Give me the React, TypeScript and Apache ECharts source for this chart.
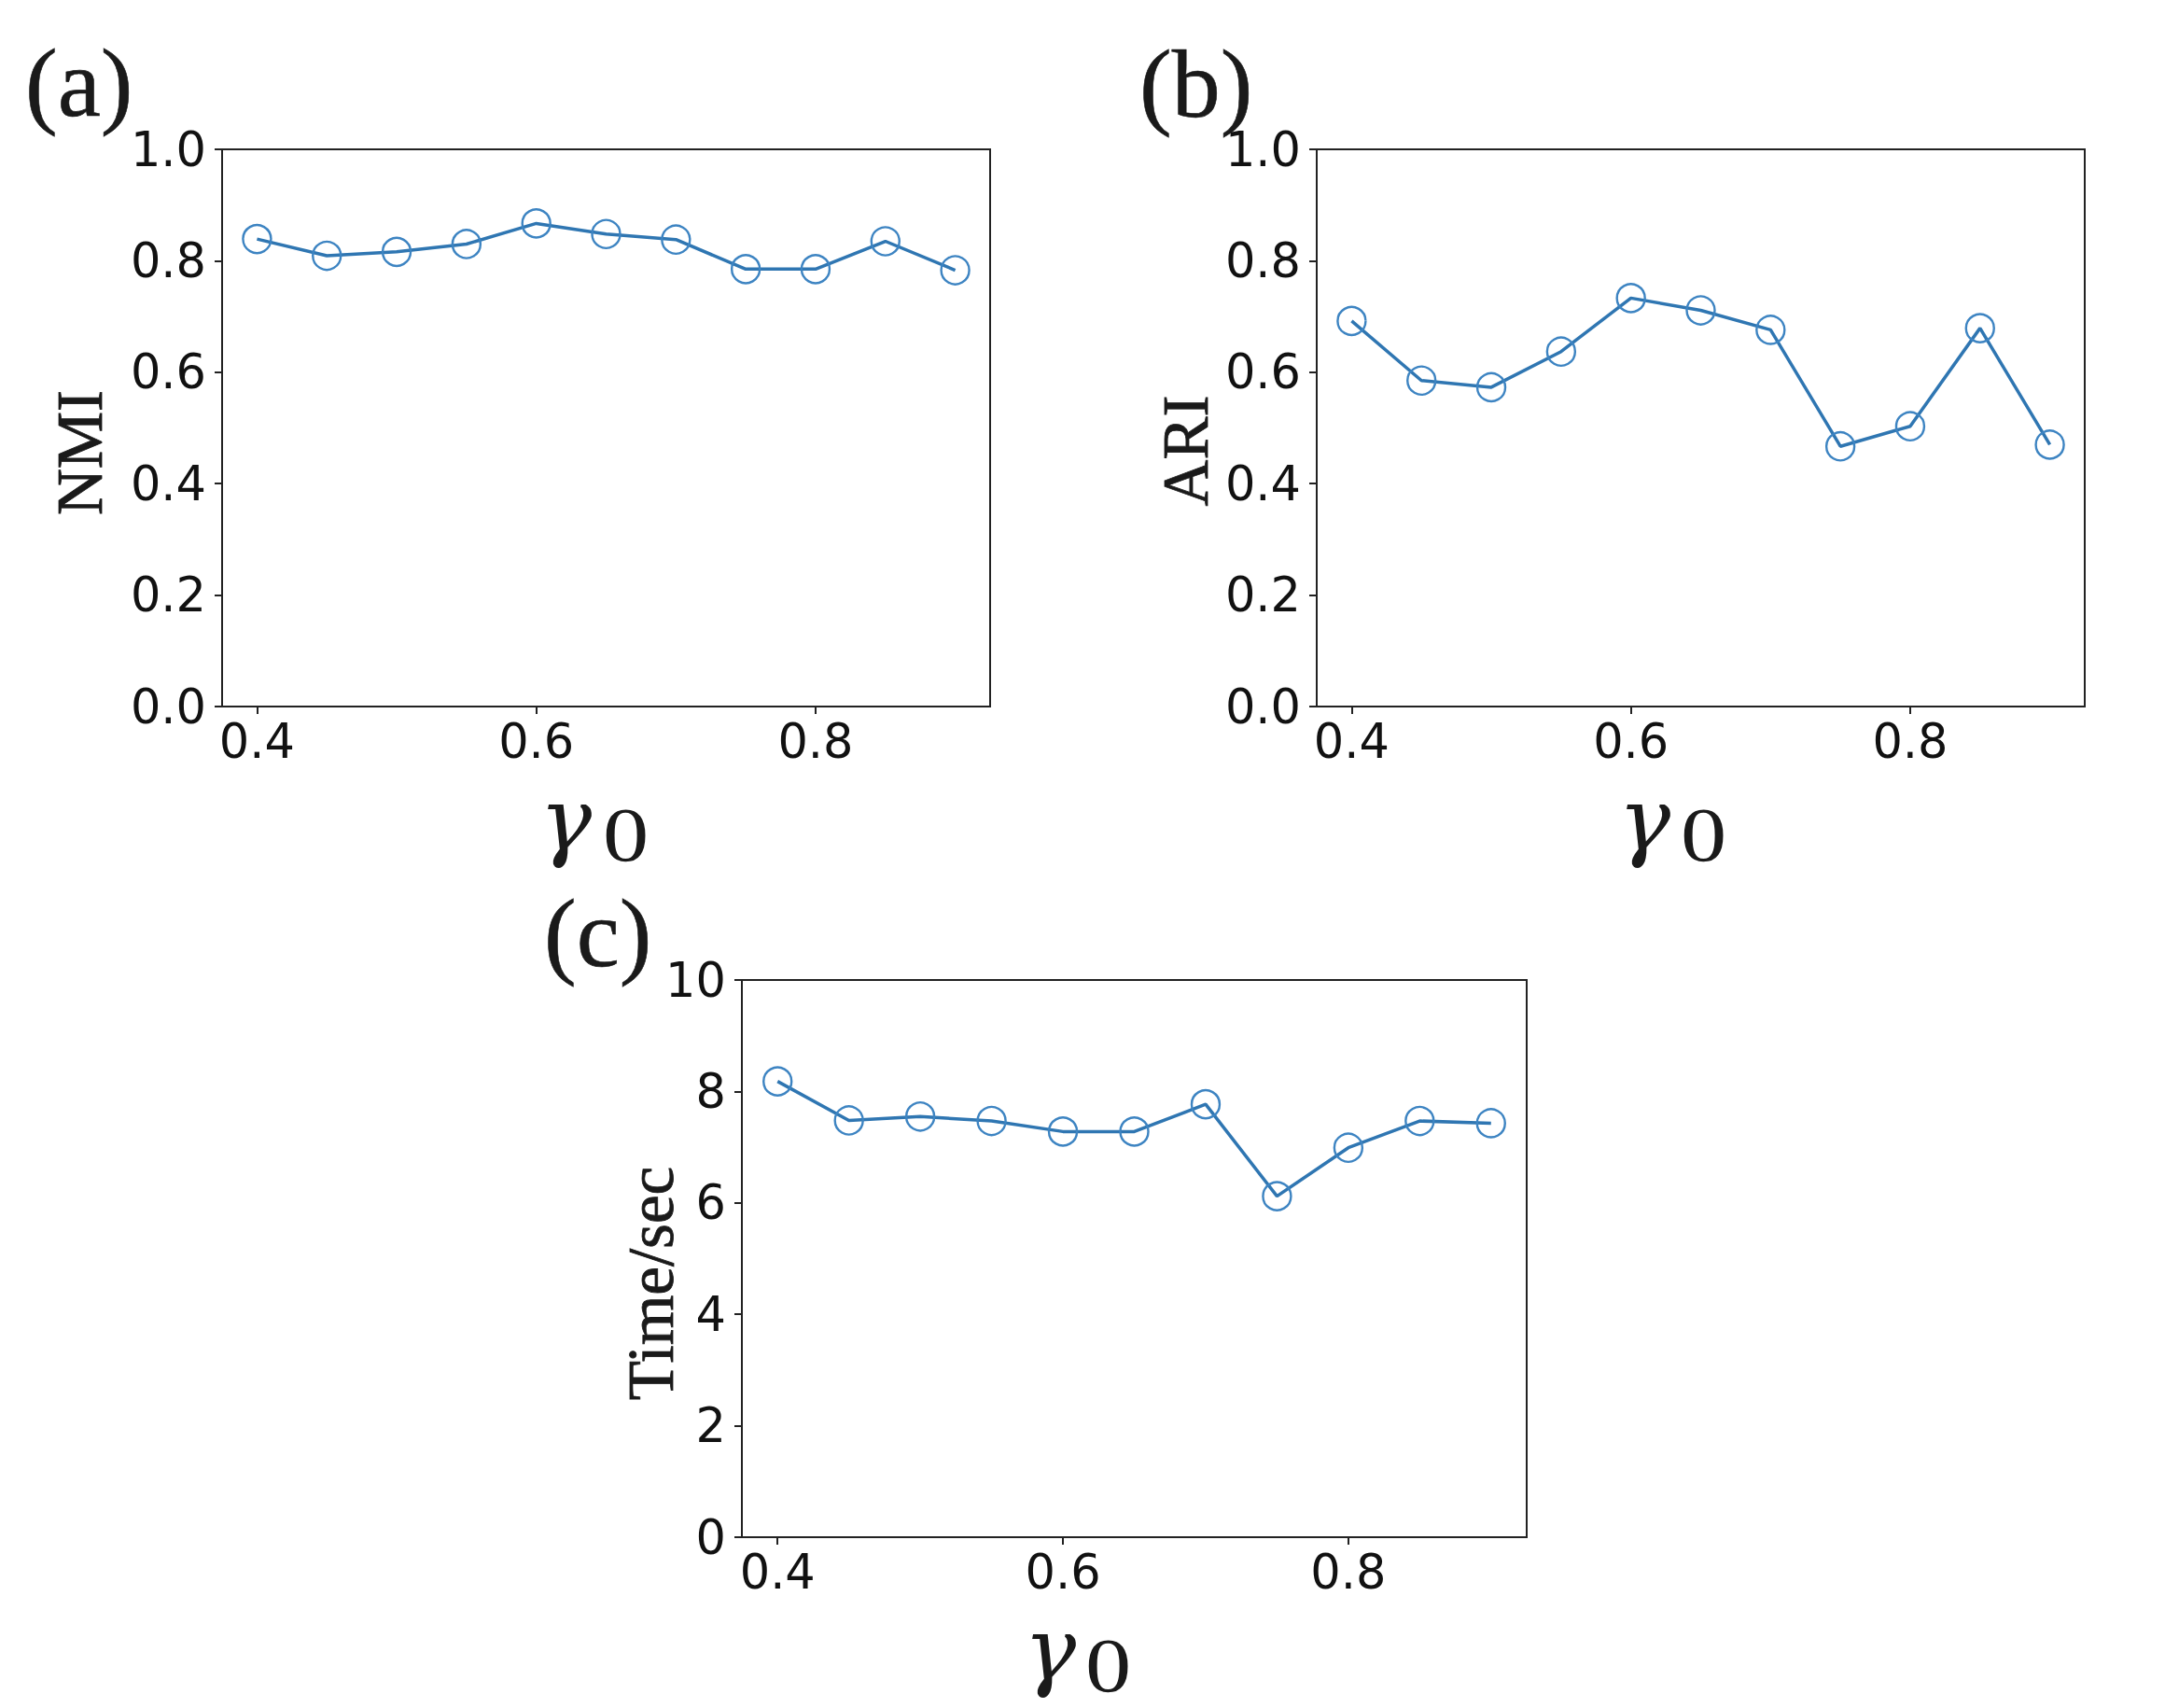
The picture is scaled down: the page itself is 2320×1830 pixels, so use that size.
import React, { useEffect, useRef } from "react";
import * as echarts from "echarts";

const gammaValues = [0.4, 0.45, 0.5, 0.55, 0.6, 0.65, 0.7, 0.75, 0.8, 0.85, 0.9];
const nmiValues = [0.839, 0.809, 0.816, 0.830, 0.867, 0.848, 0.838, 0.785, 0.785, 0.835, 0.783];
const ariValues = [0.692, 0.585, 0.573, 0.637, 0.733, 0.711, 0.676, 0.467, 0.503, 0.679, 0.470];
const timeValues = [8.18, 7.48, 7.55, 7.47, 7.28, 7.28, 7.77, 6.12, 6.99, 7.47, 7.43];
const xTickValues = [0.4, 0.6, 0.8];
const panelLabels = ["(a)", "(b)", "(c)"];
const yAxisNames = ["NMI", "ARI", "Time/sec"];

const LINE = "#2f76b2";
const MARK = "#3d84c2";
const AXIS = "#222222";
const TICK_FONT = "DejaVu Sans";
const SERIF = "Liberation Serif";
const INK = "#1a1a1a";

const grids = [
  { left: 238, top: 160, width: 823, height: 597 },
  { left: 1411, top: 160, width: 823, height: 597 },
  { left: 795, top: 1050, width: 841, height: 597 },
];

export default function App() {
  const ref = useRef<HTMLDivElement>(null);
  useEffect(() => {
    if (!ref.current) return;
    const chart = echarts.init(ref.current, null, { renderer: "svg" });
    const yCfg = [
      { max: 1, interval: 0.2, fmt: (v: number) => v.toFixed(1) },
      { max: 1, interval: 0.2, fmt: (v: number) => v.toFixed(1) },
      { max: 10, interval: 2, fmt: (v: number) => String(Math.round(v)) },
    ];
    const series = [nmiValues, ariValues, timeValues].map((vals, i) => ({
      type: "line",
      xAxisIndex: i,
      yAxisIndex: i,
      data: gammaValues.map((g, k) => [g, vals[k]]),
      symbol: "circle",
      symbolSize: 30,
      lineStyle: { color: LINE, width: 3.5 },
      itemStyle: { color: "rgba(0,0,0,0)", borderColor: MARK, borderWidth: 2.4 },
      z: 3,
    }));
    const labelPos = [
      { px: 27, py: 88, nx: 86, ny: 485, gx: 578, g0x: 646, gy: 922, gb: 931 },
      { px: 1221, py: 89, nx: 1271, ny: 483, gx: 1734, g0x: 1801, gy: 922, gb: 931 },
      { px: 583, py: 999, nx: 698, ny: 1375, gx: 1097, g0x: 1163, gy: 1812, gb: 1820 },
    ];
    const GF = 94;
    const graphic: any[] = [];
    labelPos.forEach((p, i) => {
      graphic.push({
        type: "text",
        x: p.px,
        y: p.py,
        style: {
          text: panelLabels[i], font: `104px "${SERIF}"`, fill: INK, stroke: INK, lineWidth: 0.6,
          align: "left", verticalAlign: "middle", lineHeight: 90,
        },
      });
      graphic.push({
        type: "text",
        x: p.nx,
        y: p.ny,
        rotation: Math.PI / 2,
        style: {
          text: yAxisNames[i], font: `69px "${SERIF}"`, fill: INK, stroke: INK, lineWidth: 0.8,
          align: "center", verticalAlign: "middle", lineHeight: 50,
        },
      });
      graphic.push({
        type: "text",
        x: p.gx,
        y: p.gb - 0.22 * GF - 0.3375 * GF,
        style: {
          text: "γ", font: `italic ${GF}px "DejaVu Serif"`, fill: INK,
          align: "left", verticalAlign: "middle", lineHeight: 36,
        },
      });
      graphic.push({
        type: "text",
        x: p.g0x,
        y: p.gy - 0.3375 * 82,
        scaleX: 1.2,
        style: {
          text: "0", font: `82px "${SERIF}"`, fill: INK, align: "left", verticalAlign: "middle", lineHeight: 36,
        },
      });
    });

    chart.setOption({
      animation: false,
      backgroundColor: "#ffffff",
      grid: grids.map((g) => ({
        ...g,
        containLabel: false,
        outerBoundsMode: "none",
        show: true,
        borderColor: AXIS,
        borderWidth: 2,
        backgroundColor: "rgba(0,0,0,0)",
      })),
      xAxis: grids.map((_, i) => ({
        type: "value",
        gridIndex: i,
        min: 0.375,
        max: 0.925,
        splitLine: { show: false },
        axisLine: { show: true, onZero: false, lineStyle: { color: AXIS, width: 2 } },
        axisTick: { show: true, length: 8, lineStyle: { color: AXIS, width: 2 }, customValues: xTickValues },
        axisLabel: {
          show: true,
          customValues: xTickValues,
          formatter: (v: number) => v.toFixed(1),
          fontFamily: TICK_FONT,
          fontSize: 51,
          color: "#111",
          margin: 12,
        },
      })),
      yAxis: grids.map((_, i) => ({
        type: "value",
        gridIndex: i,
        min: 0,
        max: yCfg[i].max,
        interval: yCfg[i].interval,
        splitLine: { show: false },
        axisLine: { show: true, onZero: false, lineStyle: { color: AXIS, width: 2 } },
        axisTick: { show: true, length: 8, lineStyle: { color: AXIS, width: 2 } },
        axisLabel: {
          show: true,
          formatter: yCfg[i].fmt,
          fontFamily: TICK_FONT,
          fontSize: 51,
          color: "#111",
          margin: 17,
        },
      })),
      series,
      graphic,
    } as any);
    return () => chart.dispose();
  }, []);
  return <div ref={ref} style={{ position: "absolute", left: 0, top: 0, width: 2320, height: 1830 }} />;
}
